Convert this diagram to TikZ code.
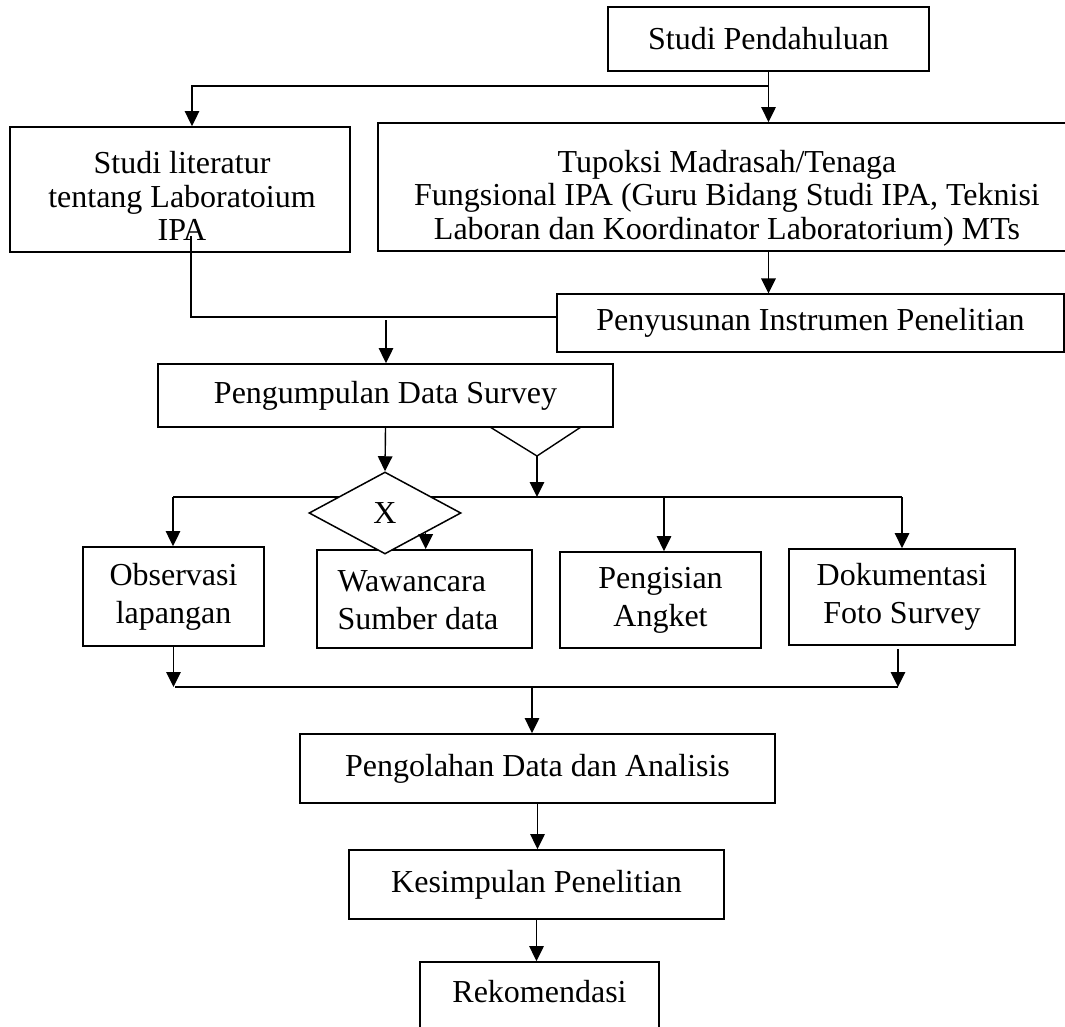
\documentclass[tikz,border=0pt]{standalone}
\usepackage{fontspec}
\setmainfont{Liberation Serif}
\usetikzlibrary{arrows.meta,shapes.geometric,calc}
\begin{document}
\begin{tikzpicture}[x=1pt,y=-1pt,
  box/.style={draw, line width=1.8pt, rectangle, inner sep=0pt, align=center, font=\fontsize{32}{38}\selectfont},
  txt/.style={inner sep=0pt, align=center, font=\fontsize{32}{33.5}\selectfont},
  con/.style={line width=1.4pt},
  arr/.style={con, -{Triangle[length=15pt,width=14.5pt]}}
]
\useasboundingbox (0,0) rectangle (1065,1027);

% boxes
\node[box, minimum width=321pt, minimum height=64pt] (pend) at (768.5,39) {Studi Pendahuluan};
\node[box, minimum width=340pt, minimum height=125pt] (lit) at (180,189.5) {};
\node[txt] (littext) at (182,196) {Studi literatur\\tentang Laboratoium\\IPA};
\node[box, minimum width=698pt, minimum height=128pt] (tup) at (727,187) {};
\node[txt] (tuptext) at (727,198) {Tupoksi Madrasah/Tenaga\\Fungsional IPA (Guru Bidang Studi IPA, Teknisi\\Laboran dan Koordinator Laboratorium) MTs};
\node[box, line width=1.2pt, minimum width=507pt, minimum height=58pt] (pen) at (810.5,323) {Penyusunan Instrumen Penelitian};
\node[box, minimum width=455pt, minimum height=63pt] (pgm) at (385.5,395.5) {Pengumpulan Data Survey};
\node[box, minimum width=181pt, minimum height=99pt] (obs) at (173.5,596.5) {Observasi\\lapangan};
\node[box, minimum width=215pt, minimum height=98pt] (waw) at (424.5,599) {};
\node[txt, align=left, font=\fontsize{32}{38}\selectfont] (wawtext) at (418,600) {Wawancara\\Sumber data};
\node[box, minimum width=201pt, minimum height=96pt] (ang) at (660.5,600) {Pengisian\\Angket};
\node[box, minimum width=226pt, minimum height=96pt] (dok) at (902,597) {Dokumentasi\\Foto Survey};
\node[box, minimum width=475pt, minimum height=69pt] (olah) at (537.5,768.5) {Pengolahan Data dan Analisis};
\node[box, minimum width=375pt, minimum height=69pt] (kes) at (536.5,884.5) {Kesimpulan Penelitian};
\node[box, minimum width=239pt, minimum height=90pt] (rek) at (539.5,1007) {};
\node[txt] (rektext) at (539.5,992) {Rekomendasi};

% coordinates
\coordinate (j1) at (pend.south |- 0,86);
\coordinate (litin) at (191,236);
\coordinate (p1) at (386,320);
\coordinate (v1) at (490,427);
\coordinate (vb) at (537,456);
\coordinate (v2) at (581,427);
\coordinate (busL) at (173,497);
\coordinate (busR) at (902,497);
\coordinate (b3) at (664,497);
\coordinate (bL) at (175,687);
\coordinate (bR) at (898,687);
\coordinate (d2) at (898,649);
\coordinate (b5) at (532,687);

% connectors
\draw[arr] (pend.south) -- (pend.south |- tup.north);
\draw[arr] (j1) -| ([xshift=12pt]lit.north);
\draw[arr] (pend.south |- tup.south) -- (pend.south |- pen.north);
\draw[con] (litin) |- ([yshift=6pt]pen.west);
\draw[arr] (p1) -- (p1 |- pgm.north);
\draw[con] (v1) -- (vb) -- (v2);
\draw[con] (busL) -- (busR);
\draw[arr] (vb) -- (vb |- busL);
\draw[arr] (busL) -- (busL |- obs.north);
\draw[arr] (b3) -- (b3 |- ang.north);
\draw[arr] (busR) -- (busR |- dok.north);

% decision diamond on top of the bus line
\node[diamond, draw, fill=white, line width=1.5pt, minimum width=152pt, minimum height=82pt, inner sep=0pt, font=\fontsize{32}{38}\selectfont] (dia) at (385,513) {X};
\draw[arr] (pgm.south) -- (dia.north);
\coordinate (ds) at ($(dia.east)!0.47!(dia.south)$);
\draw[arr] (ds) -- (ds |- waw.north);

\draw[arr] (obs.south) -- (obs.south |- bL);
\draw[arr] (d2) -- (bR);
\draw[con] (bL) -- (bR);
\draw[arr] (b5) -- (b5 |- olah.north);
\draw[arr] (olah.south) -- (olah.south |- kes.north);
\draw[arr] (kes.south) -- (kes.south |- rek.north);
\end{tikzpicture}
\end{document}
